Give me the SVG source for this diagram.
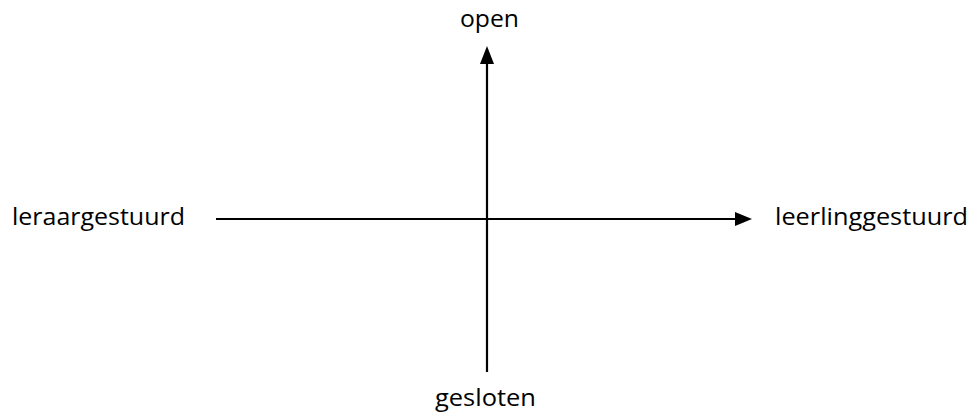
<svg xmlns="http://www.w3.org/2000/svg" width="973" height="412" viewBox="0 0 973 412">
<style>
text{font-family:"Open Sans","Liberation Sans",sans-serif;font-size:24px;fill:#000}
.ax{stroke:#000;stroke-width:2.2;fill:none}
.hd{fill:#000}
</style>
<rect width="973" height="412" fill="#fff"/>
<g id="connectors">
<path class="ax" d="M487,372 L487,64"/>
<path class="hd" d="M487,46 L480,64 L494,64 Z"/>
<path class="ax" d="M216,219 L735,219"/>
<path class="hd" d="M752,219 L735,212 L735,226 Z"/>
</g>
<g id="open"><text x="460" y="27" textLength="59" lengthAdjust="spacingAndGlyphs">open</text></g>
<g id="leraargestuurd"><text x="12" y="225" textLength="173" lengthAdjust="spacingAndGlyphs">leraargestuurd</text></g>
<g id="leerlinggestuurd"><text x="775" y="225" textLength="193" lengthAdjust="spacingAndGlyphs">leerlinggestuurd</text></g>
<g id="gesloten"><text x="435" y="406" textLength="101" lengthAdjust="spacingAndGlyphs">gesloten</text></g>
</svg>
